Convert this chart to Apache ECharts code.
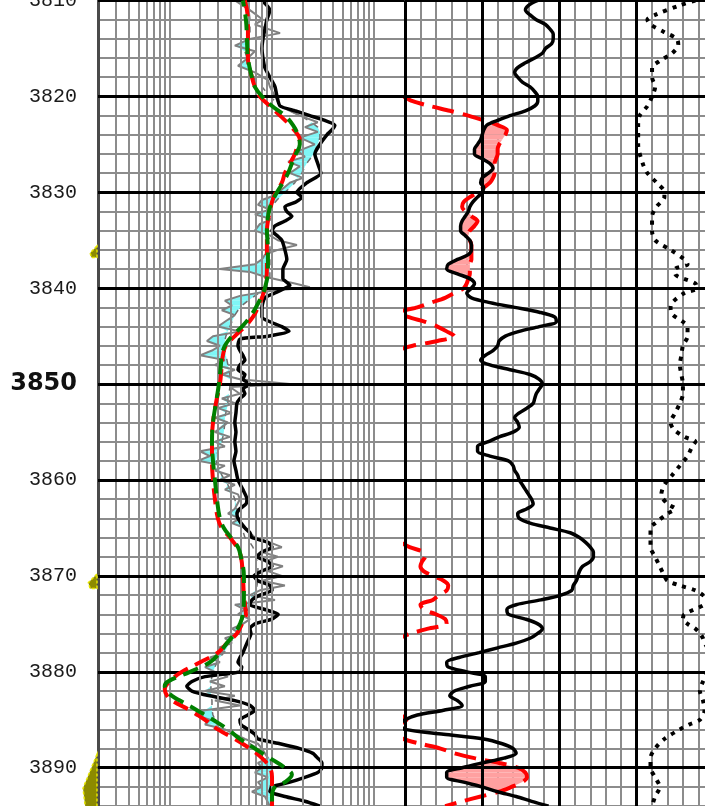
<!DOCTYPE html>
<html>
<head>
<meta charset="utf-8">
<title>Well log</title>
<script src="https://cdn.jsdelivr.net/npm/echarts@6/dist/echarts.min.js"></script>
<style>
  html, body { margin: 0; padding: 0; background: #fff; }
  #chart { width: 705px; height: 806px; }
</style>
</head>
<body>
<div id="chart"></div>
<script>
// ---- depth ticks / grid lines ----
const majorDepths = [3810, 3820, 3830, 3840, 3850, 3860, 3870, 3880, 3890]
const logLines = [0.3, 0.4, 0.5, 0.6, 0.7, 0.8, 0.9, 1, 2, 3, 4, 5, 6, 7, 8, 9, 10, 20, 30, 40, 50, 60, 70, 80, 90, 100]
const track2Majors = [0, 50, 100, 150]

// lithology flags left of the depth track (top / base depth)
const flagTop = [3835.6, 3869.8, 3888.6]
const flagBase = [3836.8, 3871.3, 3894.5]

// ---- track 1 (log scale) ----
// black resistivity
const blkDepth = [3810, 3811, 3812, 3813, 3814, 3815, 3816, 3817, 3818, 3819,
  3820, 3821, 3821.5, 3822, 3822.5, 3823, 3823.5, 3824, 3825, 3826,
  3827, 3828, 3829, 3830, 3830.5, 3831, 3831.5, 3832, 3832.5, 3833,
  3833.5, 3834, 3834.5, 3835, 3836, 3837, 3837.5, 3838, 3839, 3839.7,
  3840, 3840.5, 3841, 3842, 3843, 3843.5, 3844, 3844.5, 3845, 3845.3,
  3846, 3846.5, 3847, 3847.5, 3848, 3848.5, 3849, 3849.5, 3850, 3850.5,
  3851, 3851.5, 3852, 3853, 3854, 3855, 3856, 3857, 3858, 3859,
  3860, 3861, 3862, 3862.5, 3863, 3863.5, 3864, 3865, 3865.5, 3866,
  3866.5, 3867, 3867.5, 3868, 3868.5, 3869, 3869.5, 3870, 3870.5, 3871,
  3871.5, 3872, 3872.5, 3873, 3873.5, 3874, 3874.5, 3875, 3875.5, 3876,
  3877, 3878, 3878.5, 3879, 3879.5, 3880, 3880.5, 3881, 3881.5, 3882,
  3882.5, 3883, 3883.5, 3884, 3884.5, 3885, 3885.5, 3886, 3886.5, 3887,
  3887.5, 3888, 3888.5, 3889, 3889.5, 3890, 3890.5, 3891, 3891.5, 3892,
  3892.5, 3893, 3893.5, 3894]
const blkRes = [8.05, 9.63, 9.0, 8.6, 8.23, 8.05, 8.23, 8.6, 9.63, 10.8,
  11.3, 12.1, 16.9, 23.7, 33.2, 41.6, 38.9, 34.8, 29.7, 26.5,
  28.3, 30.4, 22.2, 17.7, 19.8, 17.3, 13.5, 14.1, 15.8, 13.5,
  10.8, 10.1, 11.3, 12.6, 13.5, 14.1, 13.5, 12.9, 12.9, 15.1,
  13.5, 10.8, 8.6, 8.05, 8.05, 9.63, 12.6, 14.8, 9.21, 4.9,
  4.69, 4.9, 5.24, 5.48, 4.9, 4.69, 5.48, 5.24, 6.14, 5.24,
  5.48, 4.9, 4.58, 4.48, 4.37, 4.48, 4.37, 4.48, 4.28, 4.48,
  4.69, 5.24, 5.74, 5.61, 4.9, 4.58, 4.69, 5.48, 6.14, 6.42,
  9.21, 10.1, 8.05, 7.19, 9.21, 10.1, 8.05, 6.72, 7.35, 9.63,
  10.1, 7.69, 6.42, 6.14, 8.6, 11.6, 10.1, 6.86, 6.14, 6.28,
  5.74, 5.24, 4.9, 4.69, 5.1, 4.9, 2.23, 1.66, 1.48, 1.66,
  2.49, 4.37, 6.14, 6.86, 5.87, 4.9, 5.01, 5.87, 6.86, 7.35,
  12.1, 18.9, 25.4, 28.3, 31.1, 31.1, 28.3, 21.2, 15.1, 10.1,
  9.63, 13.5, 21.2, 29.7]

// red dashed
const redDepth = [3810, 3812, 3814, 3816, 3818, 3819, 3820, 3821, 3822, 3823,
  3824, 3824.5, 3825, 3826, 3827, 3828, 3829, 3830, 3831, 3832,
  3833, 3834, 3836, 3838, 3840, 3841, 3842, 3843, 3844, 3845,
  3846, 3847, 3848, 3850, 3852, 3854, 3856, 3858, 3860, 3862,
  3864, 3865, 3866, 3867, 3868, 3870, 3872, 3874, 3875, 3876,
  3877, 3878, 3879, 3880, 3880.5, 3881, 3881.8, 3882.5, 3883, 3884,
  3885, 3886, 3887, 3888, 3889, 3890, 3891, 3892, 3894]
const redRes = [5.48, 5.87, 5.87, 5.87, 6.42, 6.86, 7.69, 9.63, 12.1, 15.1,
  18.1, 18.9, 18.1, 16.9, 15.1, 13.5, 12.6, 11.0, 10.1, 9.63,
  9.21, 9.0, 9.0, 9.0, 8.6, 8.05, 7.35, 6.57, 5.48, 4.37,
  3.57, 3.34, 3.26, 3.12, 2.85, 2.67, 2.61, 2.61, 2.67, 2.79,
  2.98, 3.26, 3.91, 4.58, 5.01, 5.24, 5.36, 5.61, 5.13, 4.58,
  3.66, 2.98, 2.0, 1.33, 1.13, 1.0, 0.9, 0.95, 1.06, 1.59,
  2.23, 2.98, 4.37, 6.14, 8.05, 9.63, 10.1, 10.1, 10.1]

// green dashed
const grnDepth = [3810, 3812, 3814, 3816, 3818, 3819, 3820, 3821, 3822, 3823,
  3824, 3825, 3826, 3827, 3828, 3829, 3830, 3831, 3832, 3834,
  3836, 3838, 3840, 3841, 3842, 3843, 3844, 3845, 3846, 3847,
  3848, 3850, 3852, 3854, 3856, 3858, 3860, 3862, 3864, 3865,
  3866, 3867, 3868, 3870, 3872, 3874, 3875, 3876, 3877, 3878,
  3879, 3880, 3881, 3881.5, 3882, 3882.5, 3883, 3884, 3885, 3886,
  3887, 3888, 3889, 3890, 3890.7, 3891.5, 3892, 3893, 3894]
const grnRes = [5.24, 5.61, 5.74, 5.87, 6.42, 6.86, 8.05, 10.1, 13.5, 16.2,
  18.1, 18.9, 17.3, 15.8, 14.5, 12.9, 11.3, 10.1, 9.42, 9.0,
  9.21, 9.21, 8.6, 7.86, 7.02, 6.14, 5.13, 4.09, 3.49, 3.26,
  3.19, 3.05, 2.85, 2.67, 2.61, 2.67, 2.79, 2.92, 3.12, 3.41,
  4.0, 4.69, 5.01, 5.36, 5.36, 5.24, 4.9, 4.37, 3.66, 3.12,
  2.49, 1.59, 0.97, 0.9, 0.95, 1.06, 1.27, 1.86, 2.67, 3.74,
  4.9, 6.86, 9.63, 13.5, 15.8, 13.5, 10.8, 10.1, 10.1]

// grey curve and its dashed partner (cyan where grey is left of it)
const grayDepth = [3810, 3811, 3812, 3812.5, 3813.4, 3814, 3814.7, 3815.3, 3816, 3816.8,
  3817.5, 3818.3, 3819, 3820, 3821, 3822, 3822.7, 3823.2, 3823.7, 3824.3,
  3825, 3825.7, 3826.3, 3826.8, 3827.3, 3828, 3828.5, 3829, 3829.7, 3830.3,
  3830.8, 3831.3, 3831.8, 3832.3, 3832.8, 3833.3, 3834, 3834.5, 3835, 3835.5,
  3836, 3836.5, 3837, 3837.5, 3838, 3838.3, 3838.8, 3839.5, 3839.9, 3840.3,
  3840.8, 3841.3, 3841.8, 3842.3, 3842.8, 3843.5, 3844, 3844.5, 3845, 3845.5,
  3846, 3846.5, 3847, 3847.5, 3848, 3848.5, 3849, 3849.5, 3850, 3850.3,
  3851, 3851.5, 3852, 3852.5, 3853, 3853.5, 3854, 3855, 3855.5, 3856,
  3856.5, 3857, 3857.5, 3858, 3858.5, 3859, 3859.5, 3860, 3860.5, 3861,
  3861.5, 3862, 3863, 3863.5, 3864, 3864.5, 3865, 3866, 3866.5, 3867,
  3867.5, 3868, 3868.5, 3869, 3869.5, 3870, 3870.5, 3871, 3871.5, 3872,
  3872.5, 3873, 3873.5, 3874, 3874.5, 3875, 3875.5, 3876, 3876.5, 3877,
  3877.5, 3878, 3878.5, 3879, 3879.5, 3880, 3880.5, 3881, 3881.5, 3882,
  3882.5, 3883, 3883.5, 3884, 3884.5, 3885, 3885.5, 3886, 3886.5, 3887,
  3887.5, 3888, 3888.5, 3889, 3889.5, 3890, 3890.5, 3891, 3891.5, 3892,
  3892.5, 3893, 3894]
const grayRes = [4.37, 6.14, 8.23, 6.86, 12.1, 6.14, 4.37, 6.86, 5.87, 4.69,
  6.86, 9.21, 9.63, 10.8, 12.1, 18.9, 28.3, 21.2, 28.3, 18.9,
  26.5, 18.1, 21.2, 14.5, 18.9, 15.1, 20.3, 15.1, 12.6, 10.8,
  8.05, 7.35, 9.63, 6.86, 10.1, 7.69, 6.86, 9.63, 11.5, 17.7,
  11.5, 8.6, 8.05, 6.86, 3.12, 6.14, 8.6, 16.9, 23.7, 9.63,
  4.9, 3.49, 4.09, 3.26, 4.37, 3.49, 2.98, 4.9, 2.67, 2.33,
  3.12, 2.61, 1.99, 3.49, 2.79, 4.37, 3.26, 4.9, 15.1, 3.91,
  4.9, 3.26, 4.37, 2.98, 4.09, 2.79, 3.74, 2.79, 3.91, 2.79,
  3.49, 1.99, 2.49, 1.9, 3.49, 2.79, 3.91, 3.12, 4.37, 3.49,
  4.69, 4.9, 4.37, 3.74, 4.9, 4.09, 5.48, 6.86, 9.63, 12.6,
  8.05, 11.5, 8.6, 12.9, 9.21, 12.6, 8.05, 13.5, 7.69, 6.14,
  10.8, 4.37, 5.48, 4.69, 6.14, 5.24, 4.09, 4.9, 3.49, 4.09,
  2.98, 3.49, 2.49, 3.12, 2.23, 2.79, 3.74, 2.49, 3.49, 2.23,
  4.37, 2.79, 4.9, 2.23, 1.78, 2.49, 2.23, 3.49, 4.37, 5.48,
  7.35, 8.05, 8.6, 9.21, 7.35, 8.05, 6.86, 9.21, 7.35, 8.05,
  6.42, 8.6, 9.63]
const grayBase = [5.87, 6.0, 6.14, 6.14, 6.14, 5.87, 5.61, 5.48, 5.74, 6.14,
  6.42, 6.86, 8.05, 9.63, 12.1, 18.9, 24.7, 28.3, 29.7, 29.7,
  28.3, 26.5, 24.7, 22.7, 21.2, 19.8, 18.1, 16.9, 14.5, 12.6,
  11.3, 10.3, 9.63, 9.21, 9.21, 9.0, 9.0, 9.21, 9.63, 9.63,
  9.63, 9.63, 9.63, 9.63, 9.63, 9.63, 9.63, 9.21, 8.8, 8.05,
  6.86, 5.87, 5.13, 4.69, 4.37, 4.09, 3.91, 3.74, 3.57, 3.49,
  3.49, 3.49, 3.57, 3.66, 3.74, 3.83, 3.91, 3.91, 3.91, 3.91,
  3.83, 3.74, 3.74, 3.66, 3.57, 3.49, 3.49, 3.41, 3.34, 3.26,
  3.12, 2.98, 2.92, 2.85, 2.98, 3.12, 3.26, 3.49, 3.74, 3.91,
  4.19, 4.37, 4.58, 4.69, 4.69, 4.9, 5.13, 5.48, 6.14, 6.57,
  6.86, 7.02, 7.19, 7.35, 7.35, 7.35, 7.35, 7.19, 7.02, 6.86,
  6.57, 6.14, 5.87, 5.48, 5.24, 5.01, 4.79, 4.58, 4.28, 3.91,
  3.66, 3.41, 3.12, 2.92, 2.79, 2.67, 2.61, 2.55, 2.55, 2.55,
  2.55, 2.61, 2.61, 2.61, 2.67, 2.79, 2.92, 3.12, 3.91, 4.9,
  6.14, 7.35, 8.6, 9.63, 9.85, 9.85, 9.85, 9.85, 9.85, 9.63,
  9.63, 9.85, 10.08]

// ---- track 2 (linear) ----
const t2Depth = [3810, 3810.5, 3811, 3811.5, 3812, 3812.5, 3813, 3813.5, 3814, 3814.5,
  3815, 3815.5, 3816, 3816.5, 3817, 3817.5, 3818, 3818.5, 3819, 3819.5,
  3820, 3820.5, 3821, 3821.5, 3822, 3822.5, 3823, 3823.5, 3824, 3824.5,
  3825, 3825.5, 3826, 3826.5, 3827, 3827.5, 3828, 3828.5, 3829, 3829.5,
  3830, 3830.5, 3831, 3831.5, 3832, 3832.5, 3833, 3833.5, 3834, 3834.5,
  3835, 3835.5, 3836, 3836.5, 3837, 3837.5, 3838, 3838.5, 3839, 3839.5,
  3840, 3840.5, 3841, 3841.5, 3842, 3842.5, 3843, 3843.5, 3844, 3844.5,
  3845, 3845.5, 3846, 3846.5, 3847, 3847.5, 3848, 3848.5, 3849, 3849.5,
  3850, 3850.5, 3851, 3851.5, 3852, 3852.5, 3853, 3853.5, 3854, 3854.5,
  3855, 3855.5, 3856, 3856.5, 3857, 3857.5, 3858, 3858.5, 3859, 3859.5,
  3860, 3860.5, 3861, 3861.5, 3862, 3862.5, 3863, 3863.5, 3864, 3864.5,
  3865, 3865.5, 3866, 3866.5, 3867, 3867.5, 3868, 3868.5, 3869, 3869.5,
  3870, 3870.5, 3871, 3871.5, 3872, 3872.5, 3873, 3873.5, 3874, 3874.5,
  3875, 3875.5, 3876, 3876.5, 3877, 3877.5, 3878, 3878.5, 3879, 3879.5,
  3880, 3880.5, 3881, 3881.5, 3882, 3882.5, 3883, 3883.5, 3884, 3884.5,
  3885, 3885.5, 3886, 3886.5, 3887, 3887.5, 3888, 3888.5, 3889, 3889.5,
  3890, 3890.5, 3891, 3891.5, 3892, 3892.5, 3893, 3893.5, 3894]
const gr = [86, 80, 78, 81, 85, 91, 94, 96, 96, 95,
  91, 89, 84, 78, 73, 71, 73, 76, 81, 84,
  86, 86, 84, 78, 68, 60, 53, 51, 50, 49,
  47, 45, 45, 50, 55, 57, 54, 50, 49, 51,
  50, 47, 44, 42, 41, 39, 37, 36, 36, 39,
  42, 43, 43, 41, 34, 28, 27, 34, 42, 45,
  43, 40, 43, 55, 71, 87, 97, 98, 87, 74,
  65, 61, 60, 57, 52, 49, 55, 68, 81, 87,
  89, 87, 85, 84, 83, 79, 74, 71, 73, 74,
  70, 61, 54, 47, 47, 55, 67, 70, 71, 73,
  74, 76, 78, 80, 82, 83, 79, 73, 74, 81,
  94, 107, 113, 117, 120, 122, 122, 120, 115, 113,
  112, 111, 109, 108, 101, 88, 72, 66, 67, 78,
  86, 89, 86, 81, 72, 60, 48, 35, 27, 28,
  40, 52, 52, 42, 32, 29, 34, 37, 25, 8,
  0, -3, 0, 25, 51, 63, 70, 72, 64, 50,
  37, 27, 27, 38, 50, 60, 72, 82, 93]
const redTrack2 = [null, null, null, null, null, null, null, null, null, null,
  null, null, null, null, null, null, null, null, null, null,
  -1, 5, 16, 29, 41, 51, 60, 66, 65, 63,
  61, 60, 60, 59, 58, 58, 58, 57, 55, 51,
  47, 42, 38, 37, 39, 43, 47, 45, 42, 41,
  42, 43, 43, 43, 43, 42, 42, 42, 41, 40,
  38, 32, 26, 17, 8, -3, 2, 13, 21, 27,
  32, 21, 5, -6, null, null, null, null, null, null,
  null, null, null, null, null, null, null, null, null, null,
  null, null, null, null, null, null, null, null, null, null,
  null, null, null, null, null, null, null, null, null, null,
  null, null, null, -3, 3, 12, 13, 11, 10, 12,
  18, 25, 28, 27, 22, 18, 10, 12, 20, 26,
  27, 15, 4, -4, null, null, null, null, null, null,
  null, null, null, null, null, null, null, null, null, -3,
  1, -4, -8, -5, -1, 10, 23, 32, 45, 61,
  73, 78, 79, 76, 69, 61, 49, 37, 26]

// dotted curve
const dotDepth = [3810, 3810.5, 3811.5, 3812, 3812.5, 3813.3, 3814, 3814.6, 3815.5, 3816.3,
  3817, 3818, 3819, 3820, 3821, 3822, 3823, 3825, 3827, 3828,
  3829, 3830, 3830.5, 3831.5, 3832.5, 3834, 3835, 3836, 3837, 3837.5,
  3838, 3838.5, 3839.5, 3840, 3840.5, 3841.5, 3842, 3842.7, 3843.5, 3844,
  3845, 3846, 3847, 3848, 3849, 3850, 3851, 3852, 3853, 3854,
  3854.7, 3855.5, 3856, 3856.5, 3857.5, 3858.5, 3859.5, 3860.5, 3861.5, 3862.5,
  3863, 3863.5, 3864.5, 3865, 3866, 3867, 3868, 3869, 3870, 3870.5,
  3871, 3871.5, 3872, 3872.5, 3873, 3874, 3874.5, 3875, 3875.5, 3876,
  3876.5, 3877, 3878, 3879, 3880, 3881, 3882, 3883, 3884, 3885,
  3885.5, 3886, 3887, 3888, 3889, 3890, 3891, 3892, 3893, 3894]
const dotVal = [188, 178, 162, 157, 159, 168, 176, 177, 173, 165,
  160, 160, 162, 160, 157, 152, 151, 151, 154, 157,
  163, 168, 168, 163, 160, 160, 162, 172, 181, 183,
  175, 175, 188, 189, 181, 173, 172, 173, 180, 183,
  183, 180, 179, 178, 179, 180, 180, 178, 175, 172,
  174, 181, 188, 186, 183, 178, 173, 168, 166, 170,
  175, 170, 162, 159, 159, 159, 162, 165, 168, 170,
  178, 188, 193, 197, 194, 181, 180, 183, 188, 191,
  193, 194, 198, 199, 196, 193, 191, 193, 194, 191,
  184, 178, 168, 162, 159, 159, 162, 165, 162, 160]

const GRID_GRAY = '#8c8c8c'

const pts = (depth, vals) => depth.map((d, i) => [vals[i] == null ? '-' : vals[i], d])

// fill between curve and base; side > 0 fills where curve > base, side < 0 where curve < base
const band = (depth, curve, base, side, color, xi, yi) => ({
  type: 'custom',
  xAxisIndex: xi,
  yAxisIndex: yi,
  clip: true,
  silent: true,
  z: 2,
  data: depth.map((d, i) => [base[i], d]),
  renderItem: (params, api) => {
    const i = params.dataIndex
    if (i >= depth.length - 1) return
    const a0 = curve[i], a1 = curve[i + 1], b0 = base[i], b1 = base[i + 1]
    if (a0 == null || a1 == null || b0 == null || b1 == null) return
    const pick = side > 0 ? Math.max : Math.min
    const e0 = pick(a0, b0), e1 = pick(a1, b1)
    if (e0 === b0 && e1 === b1) return
    return {
      type: 'polygon',
      shape: {
        points: [
          api.coord([e0, depth[i]]),
          api.coord([e1, depth[i + 1]]),
          api.coord([b1, depth[i + 1]]),
          api.coord([b0, depth[i]])
        ]
      },
      style: { fill: color }
    }
  }
})

const line = (depth, vals, xi, yi, style, extra) => Object.assign({
  type: 'line',
  xAxisIndex: xi,
  yAxisIndex: yi,
  data: pts(depth, vals),
  showSymbol: false,
  symbol: 'none',
  silent: true,
  clip: true,
  lineStyle: style
}, extra || {})

const hidden = { axisTick: { show: false }, axisLabel: { show: false }, axisLine: { show: false } }
const depthAxis = { type: 'value', inverse: true, min: 3810, max: 3894, position: 'left' }

const chart = echarts.init(document.getElementById('chart'), null, { renderer: 'canvas' })

chart.setOption({
  animation: false,
  backgroundColor: '#fff',
  grid: [
    { left: 98, top: 0.5, width: 306.5, height: 805.6, outerBoundsMode: 'none' },
    { left: 405, top: 0.5, width: 300, height: 805.6, outerBoundsMode: 'none' }
  ],
  xAxis: [
    Object.assign({ type: 'log', logBase: 10, min: 0.2, max: 200, gridIndex: 0, splitLine: { show: false } }, hidden),
    Object.assign({ type: 'value', min: 0, max: 194.3, interval: 10, gridIndex: 1,
      splitLine: { show: true, showMaxLine: false, lineStyle: { color: GRID_GRAY, width: 2 } } }, hidden)
  ],
  yAxis: [
    Object.assign({}, depthAxis, hidden, {
      gridIndex: 0, interval: 2,
      splitLine: { show: true, lineStyle: { color: GRID_GRAY, width: 2 } },
      axisLine: { show: true, lineStyle: { color: '#4a4a4a', width: 3 } }
    }),
    Object.assign({}, depthAxis, {
      gridIndex: 0, interval: 10,
      splitLine: { show: false }, axisTick: { show: false }, axisLine: { show: false },
      axisLabel: {
        margin: 21,
        showMaxLabel: false,
        formatter: v => v === 3850 ? '{b|3850}' : '{n|' + v + '}',
        rich: {
          n: { fontFamily: 'Liberation Mono', fontSize: 20, color: '#1a1a1a' },
          b: { fontFamily: 'DejaVu Sans', fontWeight: 'bold', fontSize: 24, color: '#111' }
        }
      }
    }),
    Object.assign({}, depthAxis, hidden, {
      gridIndex: 1, interval: 2,
      splitLine: { show: true, lineStyle: { color: GRID_GRAY, width: 2 } }
    })
  ],
  series: [
    // track 1 frame
    {
      type: 'line', xAxisIndex: 0, yAxisIndex: 0, data: [], z: 1, silent: true,
      markLine: {
        silent: true, symbol: ['none', 'none'], animation: false, label: { show: false },
        data: logLines.map(v => ({ xAxis: v, lineStyle: { color: GRID_GRAY, width: 2, type: 'solid' } }))
          .concat(majorDepths.map(v => ({ yAxis: v, lineStyle: { color: '#000', width: 3, type: 'solid' } })))
      }
    },
    // track 2 frame
    {
      type: 'line', xAxisIndex: 1, yAxisIndex: 2, data: [], z: 1, silent: true,
      markLine: {
        silent: true, symbol: ['none', 'none'], animation: false, label: { show: false },
        data: track2Majors.map(v => ({ xAxis: v, lineStyle: { color: '#000', width: 3, type: 'solid' } }))
          .concat(majorDepths.map(v => ({ yAxis: v, lineStyle: { color: '#000', width: 3, type: 'solid' } })))
      }
    },
    // olive flags hanging off the left edge of the depth track
    {
      type: 'custom', xAxisIndex: 0, yAxisIndex: 0, clip: false, silent: true, z: 3,
      data: flagTop.map((t, i) => [0.2, t]),
      renderItem: (params, api) => {
        const i = params.dataIndex
        const a = api.coord([0.2, flagTop[i]])
        const b = api.coord([0.2, flagBase[i]])
        const h = b[1] - a[1]
        const w = Math.min(14, h * 0.6)
        const x = a[0] - 1
        return {
          type: 'polygon',
          shape: { points: [[x, a[1]], [x - w * 0.5, a[1] + h * 0.3], [x - w, a[1] + h * 0.6], [x - w * 0.8, b[1]], [x, b[1]]] },
          style: { fill: '#8c8a00', stroke: '#e6e600', lineWidth: 1.5, lineDash: [3, 2] }
        }
      }
    },
    band(grayDepth, grayRes, grayBase, -1, '#7ff6f6', 0, 0),
    line(grayDepth, grayBase, 0, 0, { color: '#6e6e6e', width: 1.5, type: [6, 7] }, { z: 3 }),
    line(grayDepth, grayRes, 0, 0, { color: '#808080', width: 2 }, { z: 3 }),
    line(blkDepth, blkRes, 0, 0, { color: '#000', width: 3.5 }, { z: 4, smooth: 0.2 }),
    line(redDepth, redRes, 0, 0, { color: '#ff0000', width: 4, type: [16, 8] }, { z: 5, smooth: 0.4 }),
    line(grnDepth, grnRes, 0, 0, { color: '#008000', width: 4, type: [16, 8], dashOffset: 10 }, { z: 6, smooth: 0.4 }),

    band(t2Depth, redTrack2, gr, 1, '#ffa0a0', 1, 2),
    line(t2Depth, redTrack2, 1, 2, { color: '#ff0000', width: 4, type: [22, 9] }, { z: 3, smooth: 0.3 }),
    line(t2Depth, gr, 1, 2, { color: '#000', width: 3.5 }, { z: 4, smooth: 0.3 }),
    line(dotDepth, dotVal, 1, 2, { color: '#000', width: 4, type: [4, 6] }, { z: 4, smooth: 0.3 })
  ]
})

window.addEventListener('resize', () => chart.resize())
</script>
</body>
</html>
